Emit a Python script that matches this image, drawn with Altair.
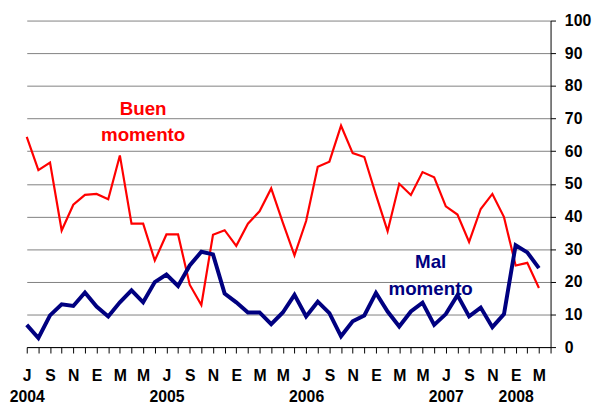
import altair as alt
import pandas as pd

# Monthly series, Jul 2004 .. Mar 2008 (index 0..44)
buen = [64.4, 54.2, 56.5, 35.7, 43.6, 46.6, 46.9, 45.3, 58.7, 37.8,
        37.8, 26.5, 34.5, 34.5, 19.1, 12.9, 34.4, 35.8, 31.0, 37.8,
        41.6, 48.6, 38.1, 28.1, 38.6, 55.2, 56.8, 67.8, 59.4, 58.2,
        46.6, 35.5, 50.0, 46.6, 53.6, 52.0, 43.1, 40.6, 32.2, 42.3,
        46.9, 39.8, 25.0, 25.8, 18.1]
mal = [6.8, 2.8, 9.7, 13.1, 12.6, 16.7, 12.4, 9.4, 13.7, 17.4,
       13.7, 19.9, 22.2, 18.7, 25.0, 29.2, 28.4, 16.4, 13.7, 10.6,
       10.6, 7.0, 10.6, 16.0, 9.4, 13.9, 10.4, 3.3, 7.9, 9.7,
       16.6, 10.9, 6.3, 10.9, 13.6, 6.8, 10.1, 15.9, 9.4, 12.1,
       6.1, 10.1, 31.2, 29.0, 24.2]

# tick labels (every second month) and year labels
month_letters = ["J", "S", "N", "E", "M", "M", "J", "S", "N", "E", "M", "M",
                 "J", "S", "N", "E", "M", "M", "J", "S", "N", "E", "M"]
year_labels = {0: "2004", 12: "2005", 24: "2006", 36: "2007", 42: "2008"}

# annotation labels
ann_text = ["Buen", "momento", "Mal", "momento"]
ann_x = [10.0, 10.0, 34.7, 34.7]
ann_y = [71.2, 63.1, 24.1, 16.0]
ann_color = ["#FF0000", "#FF0000", "#000080", "#000080"]

n_slots = 46  # ticks 0..45
labels = []
for i in range(n_slots):
    if i % 2 == 0 and i // 2 < len(month_letters):
        m = month_letters[i // 2]
        if i in year_labels:
            labels.append('["%s","%s"]' % (m, year_labels[i]))
        else:
            labels.append('"%s"' % m)
    else:
        labels.append('""')
label_expr = "[" + ",".join(labels) + "][datum.value]"

df = pd.DataFrame({
    "idx": list(range(len(buen))) * 2,
    "value": buen + mal,
    "serie": ["Buen momento"] * len(buen) + ["Mal momento"] * len(mal),
})
ann = pd.DataFrame({"idx": ann_x, "value": ann_y, "text": ann_text, "color": ann_color})

FONT = "Liberation Sans, Arial, sans-serif"

x_enc = alt.X(
    "idx:Q",
    scale=alt.Scale(domain=[0, 45], nice=False, zero=False),
    axis=alt.Axis(
        values=list(range(n_slots)), labelExpr=label_expr, title=None,
        grid=False, tickSize=6, tickColor="black", domainColor="black",
        labelFont=FONT, labelFontSize=16, labelFontWeight="bold",
        labelColor="black", labelPadding=15, labelOverlap=False,
        labelBound=False, labelFlush=False, labelLineHeight=21,
    ),
)
y_enc = alt.Y(
    "value:Q",
    scale=alt.Scale(domain=[0, 100], nice=False),
    axis=alt.Axis(
        orient="right", values=list(range(0, 101, 10)), title=None,
        grid=True, gridColor="#808080", gridWidth=1,
        tickSize=5, tickColor="black", domainColor="black",
        labelFont=FONT, labelFontSize=16, labelFontWeight="bold",
        labelColor="black", labelPadding=9, labelOverlap=False,
    ),
)

red_line = alt.Chart(df).transform_filter(alt.datum.serie == "Buen momento").mark_line(
    color="#FF0000", strokeWidth=2.2).encode(x=x_enc, y=y_enc)
blue_line = alt.Chart(df).transform_filter(alt.datum.serie == "Mal momento").mark_line(
    color="#000080", strokeWidth=4).encode(x=x_enc, y=y_enc)

text = alt.Chart(ann).mark_text(
    font=FONT, fontSize=19, fontWeight="bold", align="center", baseline="alphabetic"
).encode(
    x=x_enc, y=y_enc, text="text:N",
    color=alt.Color("color:N", scale=None),
)

chart = alt.layer(red_line, blue_line, text).properties(
    width=531, height=331,
    autosize=alt.AutoSizeParams(type="none"),
    padding={"left": 19, "top": 10, "right": 42, "bottom": 58},
    background="white",
).configure_view(stroke=None)

chart.save("out.html", embed_options={"renderer": "svg", "actions": False})
